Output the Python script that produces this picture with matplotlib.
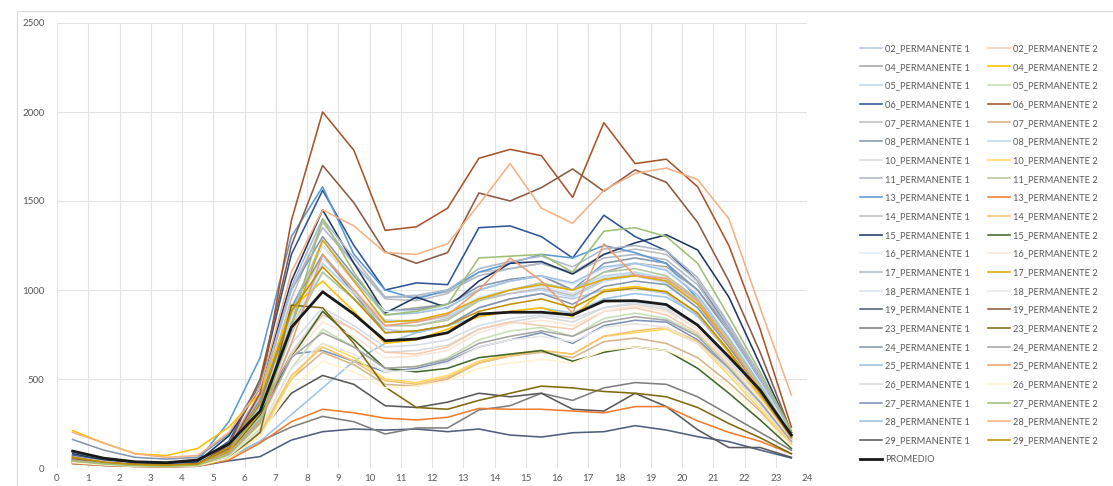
import matplotlib
matplotlib.use("Agg")
import matplotlib.pyplot as plt
from matplotlib.patches import Rectangle

plt.rcParams['font.family'] = ['Lato', 'DejaVu Sans']

hours = [h + 0.5 for h in range(24)]

# Hourly counts per station, first and second permanent counters
p1_names = ["02_PERMANENTE 1", "04_PERMANENTE 1", "05_PERMANENTE 1", "06_PERMANENTE 1",
            "07_PERMANENTE 1", "08_PERMANENTE 1", "10_PERMANENTE 1", "11_PERMANENTE 1",
            "13_PERMANENTE 1", "14_PERMANENTE 1", "15_PERMANENTE 1", "16_PERMANENTE 1",
            "17_PERMANENTE 1", "18_PERMANENTE 1", "19_PERMANENTE 1", "23_PERMANENTE 1",
            "24_PERMANENTE 1", "25_PERMANENTE 1", "26_PERMANENTE 1", "27_PERMANENTE 1",
            "28_PERMANENTE 1", "29_PERMANENTE 1"]
p2_names = [n.replace(" 1", " 2") for n in p1_names]

p1_colors = ["#b4c7e7", "#a5a5a5", "#bdd7ee", "#2f5597", "#bfbfbf", "#8497b0", "#d9d9d9",
             "#adb9ca", "#5b9bd5", "#c0c0c0", "#203864", "#deebf7", "#adb9ca", "#dae3f3",
             "#4f5f7f", "#7f7f7f", "#8497b0", "#9dc3e6", "#d6dce5", "#7f93b8", "#9dc3e6",
             "#595959"]
p2_colors = ["#f8cbad", "#ffc000", "#c5e0b4", "#a9542a", "#d6b48c", "#bdd7ee", "#ffd966",
             "#b4c7a0", "#ed7d31", "#f4c470", "#43682b", "#fbe5d6", "#e0a800", "#e6e6e6",
             "#8b5a42", "#7f6a10", "#a5a5a5", "#eea070", "#fff2cc", "#9fbf78", "#f4b183",
             "#bf9000"]

p1_values = [
    [45, 25, 15, 12, 18, 90, 300, 800, 1100, 950, 780, 760, 800, 900, 950, 980, 950, 1000, 1010, 980, 850, 650, 420, 170],
    [70, 40, 25, 20, 30, 120, 380, 900, 1250, 1050, 880, 900, 920, 1000, 1050, 1080, 1000, 1100, 1150, 1130, 1000, 780, 500, 200],
    [50, 30, 18, 14, 20, 100, 330, 850, 1200, 1000, 820, 830, 860, 950, 980, 1000, 960, 1050, 1080, 1040, 900, 700, 450, 180],
    [70, 40, 25, 20, 30, 150, 480, 1200, 1560, 1250, 1000, 1040, 1030, 1350, 1360, 1300, 1180, 1420, 1300, 1220, 1050, 780, 500, 180],
    [55, 30, 18, 14, 20, 110, 360, 950, 1380, 1150, 950, 940, 980, 1100, 1120, 1150, 1100, 1200, 1230, 1200, 1050, 800, 520, 200],
    [160, 100, 60, 50, 60, 190, 480, 1000, 1300, 1080, 880, 890, 920, 1020, 1060, 1080, 1000, 1150, 1180, 1150, 1000, 760, 480, 190],
    [40, 22, 14, 11, 16, 80, 260, 650, 880, 780, 650, 660, 690, 780, 820, 850, 820, 900, 920, 890, 780, 600, 390, 160],
    [60, 35, 20, 16, 24, 130, 400, 1000, 1350, 1150, 960, 960, 990, 1080, 1120, 1150, 1090, 1180, 1200, 1170, 1030, 780, 500, 190],
    [90, 55, 30, 25, 40, 260, 620, 1300, 1580, 1200, 1000, 950, 1000, 1100, 1150, 1200, 1180, 1250, 1210, 1150, 950, 700, 420, 150],
    [50, 28, 17, 13, 19, 100, 320, 820, 1150, 980, 800, 800, 840, 940, 980, 1010, 970, 1060, 1090, 1050, 920, 700, 450, 180],
    [80, 45, 30, 25, 35, 180, 450, 1050, 1450, 1150, 870, 960, 900, 1050, 1150, 1160, 1090, 1200, 1265, 1310, 1225, 960, 580, 200],
    [55, 30, 18, 14, 20, 110, 340, 880, 1250, 1050, 880, 880, 910, 1000, 1050, 1080, 1030, 1120, 1150, 1120, 980, 750, 480, 190],
    [65, 38, 22, 17, 25, 140, 420, 1020, 1400, 1180, 960, 970, 1000, 1120, 1160, 1190, 1130, 1230, 1250, 1220, 1070, 810, 520, 200],
    [50, 28, 16, 12, 18, 95, 310, 800, 1180, 1000, 830, 830, 860, 960, 1000, 1020, 980, 1070, 1100, 1070, 940, 710, 460, 180],
    [25, 14, 9, 7, 10, 40, 64, 157, 204, 219, 213, 219, 204, 219, 185, 174, 198, 204, 238, 213, 176, 148, 101, 56],
    [35, 20, 12, 9, 14, 60, 150, 230, 290, 260, 191, 225, 225, 326, 350, 420, 380, 450, 480, 470, 400, 300, 200, 100],
    [60, 33, 20, 15, 22, 120, 380, 900, 1200, 980, 760, 770, 800, 900, 950, 980, 920, 1020, 1050, 1030, 900, 680, 440, 170],
    [55, 30, 18, 14, 20, 110, 350, 870, 1280, 1060, 860, 870, 900, 1000, 1050, 1080, 1040, 1130, 1150, 1110, 970, 730, 470, 180],
    [45, 25, 15, 12, 18, 90, 290, 700, 900, 800, 680, 690, 720, 800, 840, 860, 840, 900, 930, 900, 800, 610, 400, 165],
    [50, 28, 17, 13, 19, 100, 320, 640, 660, 600, 540, 560, 600, 680, 720, 760, 700, 800, 830, 820, 720, 560, 370, 150],
    [35, 20, 12, 9, 14, 60, 150, 300, 450, 600, 700, 760, 800, 850, 880, 900, 870, 950, 980, 960, 860, 650, 420, 170],
    [40, 22, 13, 10, 15, 70, 200, 420, 520, 470, 350, 340, 370, 420, 400, 420, 330, 320, 420, 345, 215, 115, 115, 60],
]

p2_values = [
    [60, 35, 20, 15, 20, 80, 260, 640, 860, 780, 650, 640, 680, 780, 820, 800, 780, 880, 900, 860, 760, 580, 370, 150],
    [210, 140, 80, 70, 110, 230, 420, 900, 1050, 880, 700, 720, 780, 850, 880, 900, 850, 1000, 1020, 990, 870, 650, 400, 160],
    [40, 22, 14, 10, 16, 70, 220, 560, 780, 680, 560, 570, 620, 720, 770, 790, 740, 840, 870, 840, 750, 570, 370, 150],
    [60, 30, 20, 15, 25, 110, 420, 1390, 2000, 1785, 1335, 1355, 1460, 1740, 1790, 1755, 1520, 1940, 1710, 1735, 1580, 1250, 780, 230],
    [35, 20, 12, 10, 14, 60, 200, 500, 650, 580, 470, 460, 500, 590, 630, 650, 620, 710, 730, 700, 620, 480, 320, 130],
    [45, 25, 15, 12, 18, 85, 280, 750, 1150, 980, 830, 820, 850, 950, 1000, 1040, 1000, 1080, 1100, 1060, 930, 700, 450, 180],
    [30, 18, 10, 8, 12, 55, 180, 500, 700, 620, 500, 480, 520, 600, 640, 660, 640, 740, 760, 780, 700, 520, 330, 130],
    [45, 25, 15, 12, 18, 90, 290, 760, 1100, 950, 800, 800, 830, 940, 1000, 1040, 1000, 1100, 1120, 1080, 950, 720, 460, 180],
    [25, 14, 9, 7, 10, 45, 140, 260, 330, 310, 280, 270, 285, 335, 330, 330, 320, 310, 345, 345, 265, 200, 150, 80],
    [35, 20, 12, 9, 14, 60, 200, 520, 680, 600, 490, 470, 510, 590, 630, 660, 640, 740, 770, 790, 710, 540, 350, 140],
    [45, 25, 15, 12, 18, 90, 300, 620, 880, 720, 560, 540, 560, 620, 640, 660, 600, 650, 680, 660, 560, 420, 270, 110],
    [40, 22, 13, 10, 15, 75, 240, 620, 820, 740, 620, 630, 660, 760, 810, 830, 800, 880, 910, 880, 780, 590, 390, 160],
    [50, 28, 16, 12, 18, 95, 310, 800, 1280, 1050, 820, 830, 870, 950, 1000, 1030, 1000, 1060, 1080, 1050, 920, 700, 440, 170],
    [35, 20, 12, 9, 14, 65, 210, 560, 700, 640, 540, 550, 590, 680, 720, 740, 710, 790, 810, 790, 700, 540, 350, 145],
    [50, 30, 20, 15, 20, 130, 500, 1250, 1700, 1490, 1215, 1150, 1210, 1545, 1500, 1575, 1680, 1555, 1675, 1605, 1380, 1050, 650, 200],
    [30, 17, 10, 8, 12, 55, 200, 915, 900, 700, 455, 340, 330, 380, 420, 460, 450, 430, 420, 400, 340, 250, 170, 80],
    [45, 25, 15, 12, 18, 85, 270, 620, 760, 680, 560, 570, 610, 700, 740, 770, 740, 820, 850, 830, 740, 560, 370, 150],
    [40, 22, 13, 10, 15, 80, 260, 700, 1200, 1000, 800, 820, 860, 1000, 1180, 1050, 870, 1260, 1080, 1065, 940, 700, 440, 170],
    [30, 17, 10, 8, 12, 55, 180, 450, 600, 540, 450, 460, 490, 560, 590, 610, 590, 660, 680, 660, 590, 450, 300, 125],
    [40, 22, 13, 10, 15, 75, 250, 800, 1400, 1100, 860, 880, 920, 1180, 1190, 1200, 1100, 1330, 1350, 1300, 1150, 850, 540, 210],
    [200, 140, 80, 60, 70, 200, 450, 1100, 1450, 1360, 1210, 1200, 1260, 1480, 1710, 1460, 1375, 1560, 1655, 1685, 1620, 1400, 900, 410],
    [60, 33, 20, 15, 22, 115, 360, 880, 1130, 950, 760, 770, 800, 880, 920, 950, 900, 990, 1010, 990, 870, 660, 420, 170],
]

promedio = [95, 55, 35, 30, 45, 135, 320, 790, 990, 865, 715, 725, 760, 865, 875, 875, 860, 938, 940, 918, 803, 625, 438, 185]

fig = plt.figure(figsize=(11.13, 4.86), dpi=100)
ax = fig.add_axes([57 / 1113, 18 / 486, 750 / 1113, 445 / 486])

# Chart-area frame
fig.patches.append(Rectangle((17 / 1113, -0.05), 1.2, 1.05 - 11 / 486, transform=fig.transFigure,
                             fill=False, edgecolor="#d9d9d9", linewidth=0.8))

h1, h2 = [], []
for name, col, vals in zip(p1_names, p1_colors, p1_values):
    ln, = ax.plot(hours, vals, color=col, linewidth=1.15, label=name)
    h1.append(ln)
for name, col, vals in zip(p2_names, p2_colors, p2_values):
    ln, = ax.plot(hours, vals, color=col, linewidth=1.15, label=name)
    h2.append(ln)
pm, = ax.plot(hours, promedio, color="#1a1a1a", linewidth=2.0, label="PROMEDIO", zorder=5)

ax.set_xlim(0, 24)
ax.set_ylim(0, 2500)
ax.set_xticks(range(0, 25))
ax.set_yticks(range(0, 2501, 500))
ax.grid(True, color="#e3e3e3", linewidth=0.8)
ax.set_axisbelow(True)
for s in ax.spines.values():
    s.set_visible(False)
ax.tick_params(length=0, labelsize=7, labelcolor="#595959")
ax.tick_params(axis="y", pad=9)
ax.tick_params(axis="x", pad=4)

handles = h1 + [pm] + h2
leg = fig.legend(handles=handles, labels=[h.get_label() for h in handles], ncol=2,
                 loc="upper left", bbox_to_anchor=(860 / 1113, 1 - 44 / 486), frameon=False,
                 fontsize=6.7, handlelength=2.4, handletextpad=0.25, columnspacing=2.0,
                 labelspacing=1.04, borderpad=0, borderaxespad=0)
for t in leg.get_texts():
    t.set_color("#595959")

fig.savefig("out.png", dpi=100)
